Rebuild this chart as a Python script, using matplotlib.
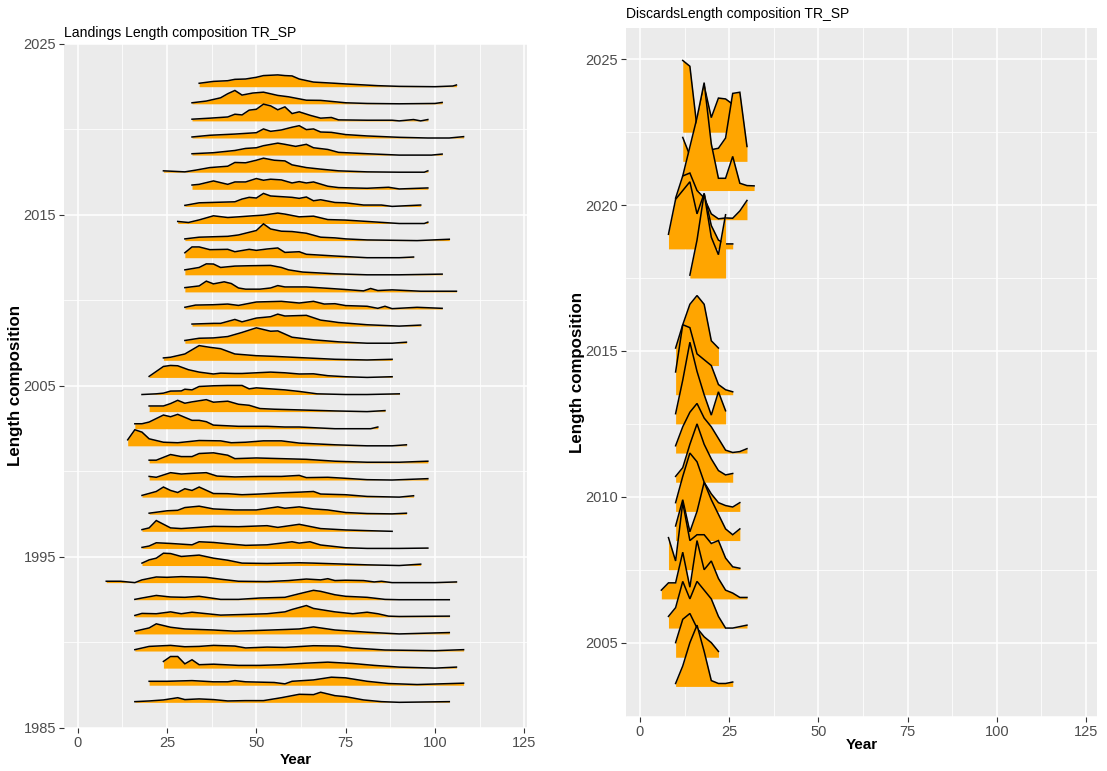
import matplotlib.pyplot as plt
import numpy as np

plt.rcParams['font.family'] = ['Liberation Sans', 'DejaVu Sans']

# Landings: one ridge per year, lengths (cm) and relative frequency heights
land_years = list(range(2023, 1986, -1))
land_lengths = [
    [34, 38, 42, 44, 47, 50, 52, 56, 58, 60, 62, 66, 72, 75, 84, 90, 100, 105, 106],
    [32, 36, 40, 42, 44, 46, 49, 52, 56, 59, 64, 68, 72, 75, 81, 90, 100, 102],
    [32, 37, 42, 44, 46, 48, 50, 52, 54, 56, 58, 60, 62, 65, 68, 71, 73, 81, 88, 90, 94, 96, 98],
    [32, 37, 44, 50, 52, 54, 57, 60, 62, 64, 66, 68, 71, 75, 81, 90, 98, 104, 108],
    [32, 38, 44, 47, 50, 52, 56, 58, 61, 62, 64, 66, 70, 73, 81, 90, 99, 102],
    [24, 30, 33, 37, 42, 44, 47, 50, 52, 55, 58, 60, 64, 68, 73, 81, 90, 97, 98],
    [32, 34, 38, 42, 44, 47, 50, 52, 54, 57, 60, 62, 64, 66, 70, 73, 81, 87, 90, 98],
    [30, 34, 44, 46, 48, 50, 52, 54, 57, 60, 62, 64, 66, 68, 72, 75, 80, 85, 88, 96],
    [28, 31, 34, 38, 42, 45, 49, 52, 56, 58, 62, 66, 70, 75, 81, 90, 97, 98],
    [30, 34, 42, 45, 50, 52, 54, 57, 60, 64, 68, 72, 75, 81, 88, 95, 104],
    [30, 32, 34, 37, 42, 44, 48, 50, 53, 56, 58, 60, 62, 64, 72, 81, 90, 94],
    [30, 34, 36, 38, 40, 44, 48, 54, 57, 59, 63, 72, 81, 90, 102],
    [30, 34, 36, 38, 41, 43, 45, 47, 51, 54, 56, 58, 64, 70, 75, 80, 82, 84, 88, 96, 106],
    [30, 33, 38, 42, 45, 50, 57, 62, 66, 69, 72, 75, 81, 84, 86, 88, 95, 102],
    [32, 38, 40, 44, 46, 50, 54, 56, 58, 64, 68, 71, 73, 81, 90, 96],
    [30, 34, 38, 42, 46, 50, 54, 56, 60, 66, 73, 81, 88, 92],
    [24, 26, 30, 34, 37, 40, 44, 50, 55, 62, 72, 81, 88],
    [20, 22, 24, 26, 28, 31, 34, 38, 40, 44, 46, 50, 54, 58, 62, 66, 70, 75, 81, 88],
    [18, 22, 24, 26, 29, 30, 32, 34, 38, 42, 46, 48, 50, 54, 58, 62, 67, 75, 81, 90],
    [20, 24, 26, 28, 30, 32, 36, 38, 42, 45, 48, 51, 55, 62, 72, 81, 86],
    [16, 18, 20, 24, 26, 28, 32, 34, 36, 38, 45, 53, 58, 62, 72, 77, 82, 84],
    [14, 16, 18, 20, 24, 28, 34, 40, 43, 47, 52, 57, 62, 72, 81, 88, 92],
    [20, 22, 26, 29, 32, 34, 38, 42, 44, 50, 57, 64, 72, 81, 90, 98],
    [20, 22, 26, 29, 32, 36, 39, 44, 48, 51, 57, 62, 64, 70, 75, 81, 88, 98],
    [18, 22, 24, 26, 28, 30, 32, 34, 38, 42, 46, 51, 57, 62, 66, 68, 75, 81, 90, 94],
    [20, 25, 28, 30, 34, 38, 44, 50, 56, 58, 62, 66, 70, 75, 81, 88, 92],
    [18, 20, 22, 26, 29, 38, 45, 53, 56, 62, 68, 75, 81, 88],
    [18, 20, 22, 26, 32, 34, 38, 42, 47, 53, 57, 60, 62, 65, 68, 75, 81, 90, 98],
    [18, 20, 22, 24, 26, 29, 34, 38, 42, 46, 53, 62, 66, 72, 81, 90, 96],
    [8, 12, 14, 16, 18, 22, 25, 29, 36, 40, 45, 53, 59, 64, 68, 70, 72, 75, 80, 83, 85, 88, 100, 106],
    [16, 18, 22, 26, 30, 34, 40, 45, 51, 58, 62, 66, 68, 72, 75, 81, 86, 90, 104],
    [16, 18, 22, 26, 29, 32, 40, 47, 53, 58, 60, 64, 66, 72, 77, 81, 84, 87, 90, 104],
    [16, 20, 22, 26, 30, 38, 44, 50, 57, 62, 66, 72, 81, 90, 104],
    [16, 20, 26, 30, 34, 38, 44, 47, 53, 58, 66, 73, 77, 86, 100, 108],
    [24, 26, 28, 30, 32, 34, 38, 45, 51, 57, 64, 70, 77, 83, 90, 100, 106],
    [20, 25, 32, 38, 42, 44, 47, 55, 58, 60, 66, 71, 75, 81, 87, 95, 108],
    [16, 20, 24, 28, 30, 34, 38, 42, 47, 52, 57, 62, 66, 68, 72, 75, 80, 85, 90, 104],
]
land_heights = [
    [0.20, 0.31, 0.35, 0.43, 0.45, 0.55, 0.65, 0.69, 0.65, 0.63, 0.45, 0.27, 0.20, 0.16, 0.06, 0.02, 0.00, 0.04, 0.10],
    [0.06, 0.16, 0.35, 0.59, 0.78, 0.51, 0.63, 0.68, 0.49, 0.41, 0.21, 0.20, 0.12, 0.06, 0.02, 0.00, 0.02, 0.08],
    [0.10, 0.16, 0.23, 0.39, 0.35, 0.63, 0.68, 0.98, 0.88, 0.65, 0.82, 0.43, 0.53, 0.33, 0.16, 0.20, 0.06, 0.04, 0.04, 0.00, 0.08, 0.00, 0.08],
    [0.06, 0.16, 0.23, 0.31, 0.53, 0.39, 0.47, 0.63, 0.72, 0.49, 0.53, 0.35, 0.33, 0.20, 0.12, 0.04, 0.00, 0.00, 0.08],
    [0.08, 0.14, 0.27, 0.39, 0.43, 0.55, 0.70, 0.63, 0.51, 0.55, 0.63, 0.43, 0.33, 0.16, 0.08, 0.00, 0.00, 0.06],
    [0.08, 0.02, 0.12, 0.27, 0.35, 0.57, 0.55, 0.70, 0.82, 0.70, 0.66, 0.43, 0.27, 0.18, 0.08, 0.02, 0.00, 0.00, 0.08],
    [0.25, 0.29, 0.49, 0.29, 0.43, 0.43, 0.63, 0.53, 0.59, 0.55, 0.37, 0.45, 0.37, 0.43, 0.18, 0.10, 0.06, 0.12, 0.02, 0.08],
    [0.06, 0.21, 0.27, 0.43, 0.53, 0.49, 0.76, 0.61, 0.57, 0.53, 0.47, 0.55, 0.33, 0.39, 0.23, 0.21, 0.08, 0.08, 0.00, 0.08],
    [0.12, 0.06, 0.21, 0.45, 0.35, 0.39, 0.45, 0.49, 0.61, 0.55, 0.39, 0.43, 0.23, 0.20, 0.12, 0.00, 0.00, 0.08],
    [0.10, 0.20, 0.25, 0.33, 0.59, 0.98, 0.68, 0.55, 0.53, 0.43, 0.20, 0.16, 0.10, 0.04, 0.02, 0.00, 0.08],
    [0.29, 0.63, 0.63, 0.47, 0.49, 0.35, 0.49, 0.43, 0.51, 0.57, 0.31, 0.33, 0.35, 0.20, 0.10, 0.00, 0.00, 0.04],
    [0.29, 0.43, 0.64, 0.63, 0.43, 0.51, 0.53, 0.55, 0.43, 0.29, 0.16, 0.06, 0.00, 0.00, 0.04],
    [0.25, 0.35, 0.63, 0.47, 0.59, 0.49, 0.23, 0.16, 0.16, 0.23, 0.37, 0.29, 0.29, 0.21, 0.14, 0.06, 0.20, 0.08, 0.12, 0.04, 0.04],
    [0.10, 0.23, 0.25, 0.29, 0.21, 0.41, 0.45, 0.35, 0.45, 0.29, 0.31, 0.20, 0.16, 0.04, 0.16, 0.02, 0.10, 0.04],
    [0.12, 0.16, 0.16, 0.39, 0.25, 0.47, 0.55, 0.70, 0.59, 0.63, 0.35, 0.27, 0.21, 0.08, 0.00, 0.06],
    [0.16, 0.29, 0.31, 0.39, 0.63, 0.90, 0.70, 0.72, 0.35, 0.20, 0.08, 0.00, 0.00, 0.06],
    [0.14, 0.18, 0.37, 0.86, 0.76, 0.68, 0.37, 0.27, 0.23, 0.16, 0.06, 0.02, 0.06],
    [0.06, 0.35, 0.64, 0.70, 0.68, 0.45, 0.31, 0.20, 0.25, 0.23, 0.23, 0.27, 0.31, 0.27, 0.20, 0.21, 0.10, 0.04, 0.00, 0.04],
    [0.00, 0.04, 0.08, 0.20, 0.21, 0.31, 0.27, 0.47, 0.51, 0.53, 0.53, 0.33, 0.39, 0.33, 0.27, 0.18, 0.04, 0.00, 0.00, 0.04],
    [0.33, 0.33, 0.47, 0.66, 0.49, 0.57, 0.70, 0.55, 0.61, 0.43, 0.37, 0.18, 0.14, 0.10, 0.04, 0.00, 0.06],
    [0.29, 0.29, 0.39, 0.80, 0.70, 0.84, 0.49, 0.49, 0.41, 0.21, 0.14, 0.14, 0.10, 0.10, 0.00, 0.00, 0.00, 0.10],
    [0.35, 0.94, 0.80, 0.41, 0.21, 0.18, 0.31, 0.29, 0.18, 0.21, 0.29, 0.29, 0.16, 0.06, 0.00, 0.00, 0.06],
    [0.16, 0.16, 0.49, 0.37, 0.37, 0.55, 0.59, 0.45, 0.25, 0.29, 0.25, 0.21, 0.10, 0.04, 0.04, 0.10],
    [0.21, 0.16, 0.43, 0.35, 0.39, 0.43, 0.23, 0.18, 0.20, 0.21, 0.21, 0.27, 0.14, 0.16, 0.10, 0.02, 0.00, 0.08],
    [0.10, 0.33, 0.59, 0.39, 0.27, 0.49, 0.39, 0.59, 0.21, 0.20, 0.14, 0.18, 0.25, 0.29, 0.33, 0.18, 0.14, 0.04, 0.00, 0.08],
    [0.06, 0.20, 0.23, 0.39, 0.47, 0.31, 0.25, 0.25, 0.43, 0.35, 0.43, 0.31, 0.25, 0.10, 0.04, 0.02, 0.06],
    [0.10, 0.20, 0.63, 0.20, 0.16, 0.29, 0.27, 0.33, 0.23, 0.41, 0.16, 0.08, 0.04, 0.00],
    [0.06, 0.14, 0.33, 0.29, 0.21, 0.39, 0.35, 0.27, 0.18, 0.21, 0.31, 0.39, 0.31, 0.39, 0.20, 0.04, 0.00, 0.00, 0.02],
    [0.14, 0.33, 0.43, 0.72, 0.70, 0.53, 0.61, 0.43, 0.31, 0.14, 0.12, 0.16, 0.14, 0.10, 0.04, 0.00, 0.08],
    [0.08, 0.08, 0.04, 0.00, 0.16, 0.33, 0.31, 0.35, 0.31, 0.20, 0.08, 0.06, 0.12, 0.21, 0.16, 0.23, 0.12, 0.14, 0.12, 0.04, 0.08, 0.00, 0.00, 0.04],
    [0.02, 0.10, 0.25, 0.16, 0.14, 0.20, 0.02, 0.02, 0.10, 0.14, 0.35, 0.55, 0.49, 0.29, 0.20, 0.14, 0.02, 0.00, 0.00],
    [0.08, 0.20, 0.18, 0.29, 0.18, 0.27, 0.10, 0.14, 0.18, 0.29, 0.43, 0.66, 0.49, 0.29, 0.18, 0.27, 0.18, 0.04, 0.02, 0.04],
    [0.16, 0.35, 0.59, 0.39, 0.29, 0.23, 0.16, 0.20, 0.25, 0.29, 0.41, 0.23, 0.10, 0.00, 0.08],
    [0.08, 0.27, 0.33, 0.25, 0.27, 0.33, 0.29, 0.18, 0.23, 0.21, 0.31, 0.29, 0.18, 0.06, 0.02, 0.08],
    [0.39, 0.68, 0.68, 0.25, 0.49, 0.20, 0.23, 0.16, 0.16, 0.20, 0.29, 0.35, 0.27, 0.16, 0.06, 0.00, 0.06],
    [0.23, 0.23, 0.27, 0.20, 0.20, 0.27, 0.20, 0.16, 0.08, 0.23, 0.31, 0.47, 0.43, 0.23, 0.10, 0.04, 0.12],
    [0.04, 0.08, 0.14, 0.27, 0.16, 0.20, 0.16, 0.08, 0.10, 0.10, 0.27, 0.47, 0.45, 0.59, 0.39, 0.33, 0.14, 0.04, 0.00, 0.04],
]

# Discards: 2 cm classes
disc_years = [2023, 2022, 2021, 2020, 2019, 2018,
              2015, 2014, 2013, 2012, 2011, 2010, 2009, 2008, 2007, 2006, 2005, 2004]
disc_lengths = [
    [12, 14, 16, 18, 20, 22, 24, 26],
    [12, 14, 16, 18, 20, 22, 24, 26, 28, 30],
    [12, 14, 16, 18, 20, 22, 24, 26, 28, 30, 32],
    [10, 12, 14, 16, 18, 20, 22, 24, 26, 28, 30],
    [8, 10, 12, 14, 16, 18, 20, 22, 24, 26],
    [14, 16, 18, 20, 22, 24],
    [10, 12, 14, 16, 18, 20, 22],
    [10, 12, 14, 16, 18, 20, 22, 24, 26],
    [10, 12, 14, 16, 18, 20, 22, 24],
    [10, 12, 14, 16, 18, 20, 22, 24, 26, 28, 30],
    [10, 12, 14, 16, 18, 20, 22, 24, 26],
    [10, 12, 14, 16, 18, 20, 22, 24, 26, 28],
    [10, 12, 14, 16, 18, 20, 22, 24, 26, 28],
    [8, 10, 12, 14, 16, 18, 20, 22, 24, 26, 28],
    [6, 8, 10, 12, 14, 16, 18, 20, 22, 24, 26, 28, 30],
    [8, 10, 12, 14, 16, 18, 20, 22, 24, 26, 28, 30],
    [10, 12, 14, 16, 18, 20, 22],
    [10, 12, 14, 16, 18, 20, 22, 24, 26],
]
disc_heights = [
    [2.46, 2.26, 0.15, 1.60, 0.50, 1.17, 1.14, 0.96],
    [0.82, 0.20, 0.90, 2.00, 0.40, 0.45, 0.80, 2.33, 2.37, 0.51],
    [0.50, 1.50, 2.50, 3.70, 1.60, 0.42, 0.42, 1.17, 0.25, 0.17, 0.16],
    [0.74, 1.50, 1.60, 1.00, 0.75, 0.20, 0.03, 0.06, 0.05, 0.30, 0.66],
    [0.50, 1.70, 2.00, 2.30, 1.20, 1.90, 0.80, 0.30, 0.17, 0.17],
    [0.10, 1.30, 2.90, 1.40, 0.80, 2.17],
    [0.60, 1.40, 2.10, 2.40, 2.10, 0.85, 0.60],
    [0.78, 2.40, 2.30, 1.40, 1.20, 1.00, 0.35, 0.17, 0.10],
    [0.35, 1.50, 2.80, 1.80, 1.00, 0.30, 1.10, 0.45],
    [0.25, 0.90, 1.40, 1.70, 1.20, 0.90, 0.50, 0.10, 0.02, 0.05, 0.15],
    [0.20, 0.50, 1.30, 2.00, 1.30, 0.80, 0.40, 0.25, 0.30],
    [0.30, 1.20, 2.00, 1.70, 1.00, 0.60, 0.30, 0.20, 0.15, 0.30],
    [0.50, 1.40, 0.30, 1.00, 2.00, 1.40, 0.90, 0.40, 0.20, 0.40],
    [1.10, 0.30, 2.30, 1.00, 1.20, 1.20, 0.90, 1.00, 0.40, 0.10, 0.05],
    [0.30, 0.55, 0.55, 1.60, 0.40, 2.00, 1.00, 1.30, 0.70, 0.30, 0.20, 0.05, 0.05],
    [0.40, 0.70, 1.60, 1.00, 1.60, 1.30, 1.00, 0.40, 0.00, 0.00, 0.05, 0.10],
    [0.50, 1.30, 1.50, 1.00, 0.70, 0.50, 0.20],
    [0.10, 0.70, 1.50, 2.10, 1.20, 0.20, 0.10, 0.10, 0.15],
]


def ridges(ax, years, lengths, heights):
    # upper rows first so lower rows overlap them
    order = np.argsort(years)[::-1]
    for k, i in enumerate(order):
        base = years[i] - 0.5
        x = np.array(lengths[i], dtype=float)
        y = base + np.array(heights[i])
        ax.fill_between(x, base, y, color='#FFA500', lw=0, zorder=2 + 2 * k)
        ax.plot(x, y, color='black', lw=1.1, zorder=3 + 2 * k,
                solid_joinstyle='miter')


def style(ax, yticks, yminor, xlab_y, ylab_x):
    ax.set_facecolor('#EBEBEB')
    for s in ax.spines.values():
        s.set_visible(False)
    ax.set_xticks([0, 25, 50, 75, 100, 125])
    ax.set_xticks([12.5, 37.5, 62.5, 87.5, 112.5], minor=True)
    ax.set_yticks(yticks)
    ax.set_yticks(yminor, minor=True)
    ax.grid(which='major', color='white', lw=1.1, zorder=0)
    ax.grid(which='minor', color='white', lw=0.55, zorder=0)
    ax.set_axisbelow(True)
    ax.tick_params(which='major', length=3.5, width=0.8, color='#333333',
                   labelcolor='#4D4D4D', labelsize=10.5, pad=2)
    ax.tick_params(which='minor', length=0)
    ax.set_xlabel('Year', fontsize=11, fontweight='bold', va='center')
    ax.set_ylabel('Length composition', fontsize=12.2, fontweight='bold', va='center')
    ax.xaxis.set_label_coords(0.5, xlab_y)
    ax.yaxis.set_label_coords(ylab_x, 0.5)


fig = plt.figure(figsize=(11.07, 7.71), dpi=100)

ax1 = fig.add_axes([0.0578, 0.0558, 0.4183, 0.8872])
ridges(ax1, land_years, land_lengths, land_heights)
style(ax1, [1985, 1995, 2005, 2015, 2025], [1990, 2000, 2010, 2020], -0.047, -0.104)
ax1.set_xlim(-3.83, 125.76)
ax1.set_ylim(1985, 2025)
ax1.set_title('Landings Length composition TR_SP', loc='left', fontsize=10.1, pad=5)

ax2 = fig.add_axes([0.5655, 0.0700, 0.4255, 0.8936])
ridges(ax2, disc_years, disc_lengths, disc_heights)
style(ax2, [2005, 2010, 2015, 2020, 2025], [2002.5, 2007.5, 2012.5, 2017.5, 2022.5], -0.041, -0.102)
ax2.set_xlim(-3.9, 128.1)
ax2.set_ylim(2002.45, 2026.07)
ax2.set_title('DiscardsLength composition TR_SP', loc='left', fontsize=10, pad=7)

fig.savefig('out.png', dpi=100)
